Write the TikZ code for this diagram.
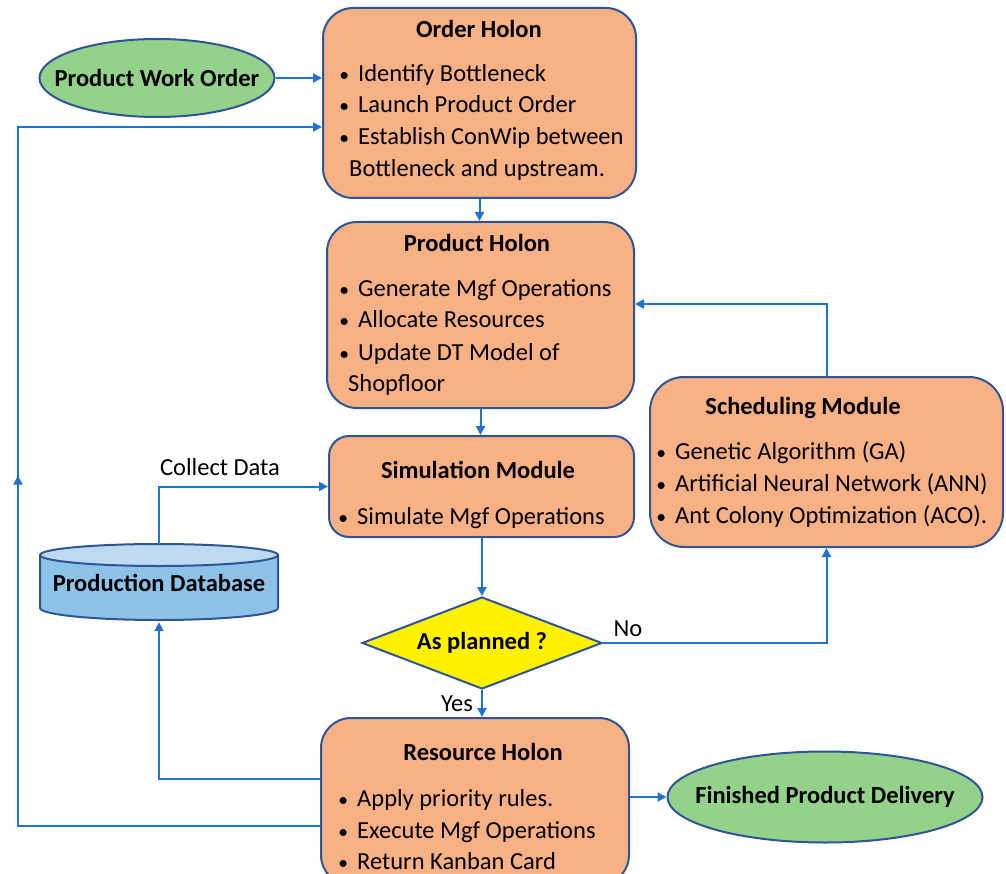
\documentclass[tikz,border=0pt]{standalone}
\usepackage{fontspec}
\setmainfont{Carlito}
\usetikzlibrary{arrows.meta,shapes.geometric,decorations.markings}

\definecolor{holonfill}{HTML}{F8B085}
\definecolor{edgeblue}{HTML}{2F5597}
\definecolor{flowblue}{HTML}{1F72CF}
\definecolor{ovalgreen}{HTML}{94D18B}
\definecolor{dbbody}{HTML}{8DC3E9}
\definecolor{dbtop}{HTML}{BDDAF0}

\begin{document}
\begin{tikzpicture}[x=1pt,y=-1pt,
  holon/.style={draw=edgeblue, line width=2pt, fill=holonfill, inner sep=0pt},
  oval/.style={ellipse, draw=edgeblue, line width=2pt, fill=ovalgreen, inner sep=0pt,
    font=\bfseries\fontsize{24.5}{29}\selectfont},
  flow/.style={draw=flowblue, line width=2pt, -{Triangle[length=9pt,width=9pt]}},
  ttl/.style={anchor=base, inner sep=0pt, font=\bfseries\fontsize{24.5}{29}\selectfont},
  txt/.style={anchor=base west, inner sep=0pt, font=\fontsize{24.5}{29}\selectfont},
  lbl/.style={inner sep=0pt, font=\fontsize{24.5}{29}\selectfont}]
\useasboundingbox (0,0) rectangle (1006,874);

\newcommand{\bul}{\llap{\scalebox{0.8}{•}\hspace{9pt}}}

% ---------- boxes ----------
\node[holon, rounded corners=30pt, minimum width=313pt, minimum height=190pt] (order) at (479.5,103) {};
\node[holon, rounded corners=30pt, minimum width=307pt, minimum height=186pt] (product) at (480.5,315) {};
\node[holon, rounded corners=20pt, minimum width=305pt, minimum height=101pt] (sim) at (481.5,486.5) {};
\node[holon, rounded corners=34pt, minimum width=353pt, minimum height=170pt] (sched) at (826.5,462) {};
\node[holon, rounded corners=30pt, minimum width=308pt, minimum height=167pt] (res) at (475,801.5) {};

\node[oval, minimum width=235pt, minimum height=78pt] (pwo) at (157,78) {\makebox[0pt]{Product Work Order}};
\node[oval, minimum width=315pt, minimum height=91pt] (fpd) at (825,797) {\makebox[0pt]{Finished Product Delivery}};

\node[diamond, aspect=2.6, draw=edgeblue, line width=2pt, fill=yellow, inner sep=0pt,
  minimum width=240pt, minimum height=92pt,
  font=\bfseries\fontsize{24.5}{29}\selectfont] (dec) at (482,643) {As planned ?};

% ---------- production database (cylinder) ----------
\fill[dbbody] (40,555) -- (40,608) arc[start angle=180,end angle=360,x radius=119pt,y radius=12pt] -- (278,555) -- cycle;
\draw[edgeblue, line width=2pt] (40,555) -- (40,608) arc[start angle=180,end angle=360,x radius=119pt,y radius=12pt] -- (278,555);
\draw[edgeblue, line width=2pt, fill=dbtop] (159,555) ellipse [x radius=119pt, y radius=11pt];
\node[inner sep=0pt, minimum width=238pt, minimum height=78pt,
  font=\bfseries\fontsize{24.5}{29}\selectfont] (db) at (159,583) {\raisebox{-4pt}{Production Database}};

% ---------- box texts ----------
\node[ttl] (ordert) at (479,38) {Order Holon};
\node[txt] (order1) at (358,82) {\bul Identify Bottleneck};
\node[txt] (order2) at (358,113) {\bul Launch Product Order};
\node[txt] (order3) at (358,145) {\bul Establish ConWip between};
\node[txt] (order4) at (349,177) {Bottleneck and upstream.};

\node[ttl] (productt) at (477,252) {Product Holon};
\node[txt] (product1) at (358,297) {\bul Generate Mgf Operations};
\node[txt] (product2) at (358,328) {\bul Allocate Resources};
\node[txt] (product3) at (358,360) {\bul Update DT Model of};
\node[txt] (product4) at (348,391) {Shopfloor};

\node[ttl] (simt) at (478,478) {Simulation Module};
\node[txt] (sim1) at (357,524) {\bul Simulate Mgf Operations};

\node[ttl] (schedt) at (803,414) {Scheduling Module};
\node[txt] (sched1) at (675,459) {\bul Genetic Algorithm (GA)};
\node[txt] (sched2) at (675,491) {\bul Artificial Neural Network (ANN)};
\node[txt] (sched3) at (675,523) {\bul Ant Colony Optimization (ACO).};

\node[ttl] (rest) at (483,760) {Resource Holon};
\node[txt] (res1) at (357,806) {\bul Apply priority rules.};
\node[txt] (res2) at (357,838) {\bul Execute Mgf Operations};
\node[txt] (res3) at (357,869) {\bul Return Kanban Card};

% ---------- connectors ----------
\coordinate (loopx) at (18,0);
\draw[flow] (pwo.east) -- (order.west |- pwo.east);
\draw[flow] (order.south) -- (order.south |- product.north);
\draw[flow] (product.south) -- (product.south |- sim.north);
\draw[flow] (sim.south -| dec.north) -- (dec.north);
\draw[flow] (dec.south) -- (dec.south |- res.north);
\draw[flow] (res.east |- fpd.west) -- (fpd.west);
\draw[flow] (dec.east) -| (sched.south);
\draw[flow] (sched.north) |- ([yshift=11pt]product.east);
\draw[flow] (db.north) |- (sim.west);
\draw[flow] ([yshift=22.5pt]res.west) -| (db.south);
\draw[flow, postaction={decorate}, decoration={markings,
    mark=at position 0.5 with {\arrow{Triangle[length=9pt,width=9pt]}}}]
  ([yshift=-24.5pt]res.west) -| (loopx |- 0,127) -- ([yshift=-24pt]order.west);

% ---------- connector labels ----------
\node[lbl] (collect) at (220,467) {Collect Data};
\node[lbl] (nolbl) at (628,629) {No};
\node[lbl] (yeslbl) at (457,704) {Yes};
\end{tikzpicture}
\end{document}
